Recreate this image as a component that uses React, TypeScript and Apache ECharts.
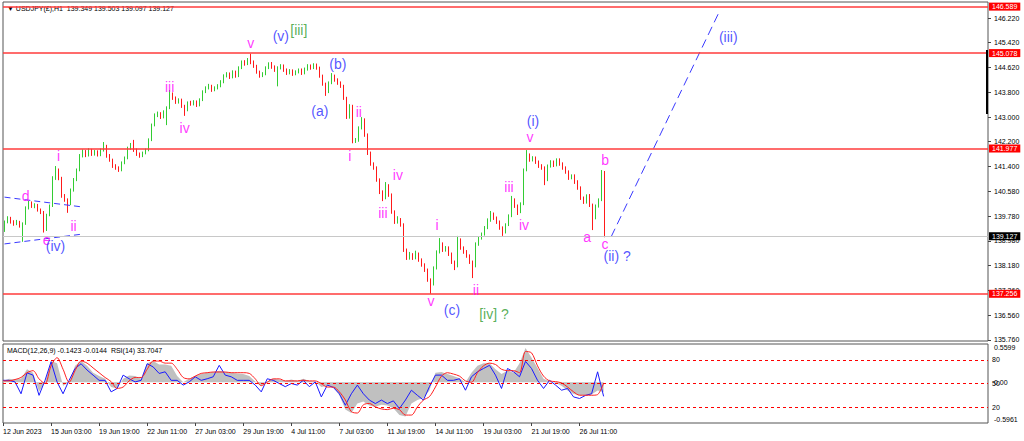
import React, { useEffect, useRef } from "react";
import * as echarts from "echarts";

// ---------- data ----------
const timeLabels = [
  "12 Jun 2023", "15 Jun 03:00", "19 Jun 19:00", "22 Jun 11:00", "27 Jun 03:00",
  "29 Jun 19:00", "4 Jul 11:00", "7 Jul 03:00", "11 Jul 19:00", "14 Jul 11:00",
  "19 Jul 03:00", "21 Jul 19:00", "26 Jul 11:00",
];
const priceTicks = [135.76, 136.56, 137.36, 138.18, 138.98, 139.78, 140.58, 141.4, 142.2, 143.0, 143.8, 144.62, 145.42, 146.22];
const levelLines = [146.589, 145.078, 141.977, 137.256];
const lastPrice = 139.127;
const rsiLevels = [20, 50, 80];
const macdBounds = [-0.5961, 0.5599];

// [open, close, low, high]
const candles = [
  [139.33,139.59,139.27,139.64],[139.59,139.72,139.55,139.78],[139.72,139.59,139.54,139.76],[139.59,139.53,139.47,139.65],
  [139.53,139.59,139.49,139.66],[139.59,139.46,139.41,139.63],[139.46,139.53,138.95,139.58],[139.53,140.05,139.50,140.10],
  [140.05,140.21,140.00,140.28],[140.21,140.11,140.05,140.26],[140.11,140.14,140.04,140.20],[140.14,139.98,139.93,140.18],
  [139.98,139.92,139.85,140.03],[139.92,139.33,139.25,139.95],[139.33,139.82,139.30,139.86],[139.82,140.11,139.78,140.16],
  [140.11,141.02,140.08,141.08],[141.02,141.28,140.96,141.41],[141.28,141.02,140.95,141.33],[141.02,140.44,140.38,141.06],
  [140.44,140.31,140.25,140.50],[140.31,140.18,139.89,140.36],[140.18,140.63,140.14,140.68],[140.63,140.96,140.58,141.02],
  [140.96,141.28,140.92,141.33],[141.28,141.74,141.24,141.80],[141.74,141.87,141.69,141.95],[141.87,141.77,141.70,141.93],
  [141.77,141.93,141.72,141.99],[141.93,141.80,141.74,141.97],[141.80,141.87,141.75,141.93],[141.87,141.77,141.72,141.92],
  [141.77,141.93,141.73,141.98],[141.93,142.06,141.88,142.19],[142.06,141.74,141.68,142.10],[141.74,141.61,141.55,141.80],
  [141.61,141.41,141.35,141.65],[141.41,141.35,141.29,141.47],[141.35,141.28,141.22,141.40],[141.28,141.51,141.24,141.56],
  [141.51,141.67,141.47,141.72],[141.67,141.99,141.63,142.04],[141.99,142.09,141.94,142.16],[142.09,141.93,141.87,142.26],
  [141.93,141.80,141.74,141.98],[141.80,141.74,141.68,141.85],[141.74,141.83,141.70,141.88],[141.83,141.93,141.79,141.98],
  [141.93,142.26,141.89,142.31],[142.26,142.74,142.22,142.79],[142.74,143.07,142.70,143.12],[143.07,143.10,143.00,143.18],
  [143.10,143.00,142.94,143.16],[143.00,143.17,142.96,143.22],[143.17,143.30,142.74,143.35],[143.30,143.75,143.26,143.88],
  [143.75,143.62,143.56,143.80],[143.62,143.49,143.43,143.67],[143.49,143.56,143.44,143.61],[143.56,143.36,143.30,143.60],
  [143.36,143.23,143.04,143.40],[143.23,143.46,143.19,143.51],[143.46,143.43,143.37,143.53],[143.43,143.49,143.38,143.55],
  [143.49,143.39,143.33,143.54],[143.39,143.56,143.35,143.61],[143.56,143.82,143.52,143.87],[143.82,143.95,143.78,144.00],
  [143.95,144.01,143.90,144.08],[144.01,143.88,143.82,144.05],[143.88,143.95,143.84,144.00],[143.95,144.01,143.90,144.07],
  [144.01,144.14,143.97,144.20],[144.14,144.34,144.10,144.39],[144.34,144.40,144.29,144.46],[144.40,144.30,144.24,144.45],
  [144.30,144.47,144.26,144.52],[144.47,144.34,144.28,144.51],[144.34,144.60,144.30,144.65],[144.60,144.79,144.56,144.84],
  [144.79,144.73,144.67,144.85],[144.73,144.86,144.69,144.92],[144.86,144.79,144.72,145.06],[144.79,144.66,144.60,144.84],
  [144.66,144.47,144.41,144.70],[144.47,144.34,144.28,144.51],[144.34,144.40,144.30,144.46],[144.40,144.60,144.36,144.65],
  [144.60,144.73,144.56,144.78],[144.73,144.63,144.57,144.79],[144.63,144.53,144.47,144.68],[144.53,144.60,144.00,144.65],
  [144.60,144.66,144.55,144.72],[144.66,144.53,144.47,144.71],[144.53,144.43,144.37,144.58],[144.43,144.50,144.39,144.56],
  [144.50,144.40,144.34,144.55],[144.40,144.47,144.36,144.52],[144.47,144.53,144.42,144.58],[144.53,144.43,144.37,144.58],
  [144.43,144.56,144.39,144.61],[144.56,144.66,144.51,144.72],[144.66,144.60,144.54,144.71],[144.60,144.69,144.56,144.75],
  [144.69,144.60,144.54,144.74],[144.60,144.34,144.28,144.64],[144.34,144.08,144.02,144.38],[144.08,143.82,143.69,144.12],
  [143.82,144.11,143.78,144.16],[144.11,144.34,144.07,144.43],[144.34,144.21,144.15,144.38],[144.21,144.11,144.05,144.26],
  [144.11,144.01,143.95,144.16],[144.01,143.62,143.56,144.05],[143.62,143.00,142.94,143.66],[143.00,143.36,142.95,143.42],
  [143.36,142.22,142.15,143.40],[142.22,142.26,142.16,142.32],[142.26,142.65,142.20,142.70],[142.65,142.91,142.60,143.00],
  [142.91,142.42,142.36,142.96],[142.42,141.83,141.77,142.47],[141.83,141.48,141.42,141.88],[141.48,141.35,141.29,141.53],
  [141.35,140.96,140.90,141.40],[140.96,140.57,140.50,141.01],[140.57,140.37,140.27,140.62],[140.37,140.76,140.33,140.89],
  [140.76,140.47,140.41,140.82],[140.47,139.92,139.86,140.52],[139.92,139.59,139.53,139.97],[139.59,139.66,139.54,139.78],
  [139.66,139.50,139.44,139.72],[139.50,138.68,138.62,139.55],[138.68,138.42,138.36,138.73],[138.42,138.52,138.37,138.62],
  [138.52,138.42,138.36,138.58],[138.42,138.55,138.38,138.66],[138.55,138.36,138.30,138.60],[138.36,138.20,138.14,138.41],
  [138.20,138.03,137.97,138.25],[138.03,137.71,137.65,138.08],[137.71,137.58,137.26,137.76],[137.58,138.10,137.53,138.15],
  [138.10,138.62,138.05,138.67],[138.62,138.88,138.57,139.07],[138.88,138.68,138.62,138.93],[138.68,138.75,138.63,138.81],
  [138.75,138.55,138.49,138.80],[138.55,138.29,138.23,138.60],[138.29,138.16,138.03,138.34],[138.16,139.01,138.12,139.14],
  [139.01,138.75,138.69,139.06],[138.75,138.62,138.56,138.80],[138.62,138.49,138.43,138.68],[138.49,138.29,138.23,138.54],
  [138.29,138.16,137.77,138.34],[138.16,138.88,138.12,138.93],[138.88,139.07,138.82,139.12],[139.07,139.20,139.02,139.25],
  [139.20,139.40,139.15,139.46],[139.40,139.66,139.36,139.71],[139.66,139.85,139.60,139.95],[139.85,139.72,139.66,139.90],
  [139.72,139.59,139.53,139.77],[139.59,139.40,139.34,139.64],[139.40,139.27,139.14,139.45],[139.27,139.50,139.22,139.55],
  [139.50,139.79,139.46,139.84],[139.79,140.31,139.75,140.44],[140.31,140.11,140.05,140.36],[140.11,139.92,139.82,140.16],
  [139.92,140.18,139.88,140.23],[140.18,141.28,140.14,141.33],[141.28,141.77,141.24,141.93],[141.77,141.61,141.55,141.82],
  [141.61,141.67,141.56,141.73],[141.67,141.54,141.48,141.72],[141.54,141.41,141.35,141.59],[141.41,141.35,141.29,141.47],
  [141.35,140.96,140.79,141.40],[140.96,141.41,140.92,141.46],[141.41,141.54,141.36,141.60],[141.54,141.44,141.38,141.59],
  [141.44,141.61,141.40,141.66],[141.61,141.48,141.42,141.66],[141.48,141.35,141.29,141.53],[141.35,141.22,141.16,141.40],
  [141.22,141.02,140.96,141.27],[141.02,141.09,140.98,141.14],[141.09,140.89,140.83,141.14],[140.89,140.70,140.64,140.95],
  [140.70,140.37,140.31,140.75],[140.37,140.24,140.18,140.42],[140.24,140.44,140.19,140.49],[140.44,140.14,140.08,140.50],
  [140.14,139.72,139.33,140.19],[139.72,140.11,139.68,140.16],[140.11,140.31,140.06,140.36],[140.31,141.22,140.27,141.28],
  [141.22,139.127,139.097,141.25],
];

const macdMain = [
  0.02,0.05,0.04,0.05,0.19,0.14,-0.14,0,0.31,0.28,
  -0.05,0,0.24,0.31,0.24,0.14,0.09,0.05,-0.07,-0.09,
  0.05,0.10,0.09,0.05,0.28,0.31,0.26,0.26,0.24,0.09,
  0,0.05,0.09,0.12,0.14,0.15,0.17,0.15,0.14,0.13,
  0.12,0.09,0.01,-0.05,0.01,0.05,0.04,0.02,0.04,0.02,
  0.05,0.02,0.01,-0.07,-0.05,-0.07,-0.19,-0.40,-0.45,-0.31,
  -0.28,-0.34,-0.36,-0.33,-0.34,-0.38,-0.48,-0.50,-0.31,-0.26,
  -0.23,-0.12,0.14,0.15,0.12,0.09,0.06,0,0.14,0.24,
  0.28,0.28,0.19,0.12,0.17,0.14,0.28,0.50,0.36,0.21,
  0.05,0.01,-0.01,-0.05,-0.12,-0.17,-0.19,-0.19,-0.18,-0.12,
  -0.1423,
];
const macdSignal = [
  0.02,0.02,0.04,0.07,0.14,0.17,0.05,-0.02,0.24,0.36,
  0.19,0,0.17,0.31,0.28,0.21,0.14,0.07,0.01,-0.09,
  -0.07,0.02,0.07,0.07,0.19,0.31,0.31,0.28,0.28,0.19,
  0.07,0.05,0.09,0.13,0.14,0.15,0.15,0.15,0.14,0.14,
  0.14,0.13,0.05,-0.05,0,0.05,0.05,0.02,0.02,0.02,
  0.03,0.02,0.02,-0.02,-0.07,-0.07,-0.14,-0.26,-0.43,-0.45,
  -0.33,-0.31,-0.36,-0.39,-0.40,-0.38,-0.40,-0.48,-0.48,-0.36,
  -0.26,-0.21,-0.07,0.09,0.14,0.12,0.09,0.02,0,0.14,
  0.24,0.28,0.26,0.19,0.17,0.17,0.14,0.45,0.43,0.24,
  0.09,0.02,0.01,-0.01,-0.07,-0.14,-0.19,-0.19,-0.19,-0.18,
  -0.0144,
];
const rsi = [
  54,54,52,37,63.5,60.6,35,54,77.5,52,
  37,54,69,75,67,60.6,54,54,39.4,43.7,
  60.6,56,52,54,75,71,62.7,64.8,54,54,
  48,52,58.5,54,56,58.5,73,60.6,58.5,54,
  54,54,48,39.4,56,54,50,46,50,48,
  54,46,52,33,48,45,37,22.5,37,48,
  37,29,24.6,29,24.6,28,18.3,29,41.5,35,
  29,46,60.6,60.6,54,54,56,41.5,58.5,64.8,
  69,73,60.6,43.7,69,64.8,58.5,78,69,54,
  43.7,54,48,41.5,43.7,33,31,35,37,64.8,
  33.7047,
];

// wave labels: [text, bar index, price, degree]
const waveLabels = [
  ["d", 7, 140.44, "minor"], ["e", 14, 139.01, "minor"], ["i", 18, 141.74, "minor"], ["ii", 23, 139.46, "minor"],
  ["iii", 55, 143.98, "minor"], ["iv", 60, 142.65, "minor"], ["v", 82, 145.41, "minor"],
  ["i", 115, 141.74, "minor"], ["ii", 118, 143.17, "minor"], ["iii", 126, 139.89, "minor"], ["iv", 131, 141.12, "minor"],
  ["v", 142, 137.03, "minor"], ["i", 144, 139.50, "minor"], ["ii", 157, 137.38, "minor"], ["iii", 168, 140.73, "minor"],
  ["iv", 173, 139.50, "minor"], ["v", 175, 142.35, "minor"], ["a", 194, 139.11, "minor"], ["b", 200, 141.61, "minor"],
  ["c", 200, 138.88, "minor"],
  ["(iv)", 17, 138.81, "minute"], ["(v)", 92, 145.64, "minute"], ["(a)", 105, 143.20, "minute"], ["(b)", 111, 144.73, "minute"],
  ["(c)", 149, 136.73, "minute"], ["(i)", 176, 142.87, "minute"], ["(ii) ?", 204, 138.49, "minute"], ["(iii)", 241, 145.60, "minute"],
  ["[iii]", 98, 145.83, "intermediate"], ["[iv] ?", 163, 136.61, "intermediate"],
];

// trendlines: [[bar index, price], [bar index, price]]
const triangleUpper = [[0, 140.40], [26, 140.08]];
const triangleLower = [[0, 138.88], [26, 139.20]];
const projection = [[202, 139.11], [238, 146.42]];

// ---------- presentation ----------
const FONT = "'Liberation Sans', Arial, sans-serif";
const degreeColor: Record<string, string> = { minor: "#ff00ff", minute: "#2a2aff", intermediate: "#2e9a2e" };
const MAIN_SLOTS = 328;
const SUB_SLOTS = 165;
const mainCats = Array.from({ length: MAIN_SLOTS }, (_, i) => String(i));
const subCats = Array.from({ length: SUB_SLOTS }, (_, k) => (k % 8 === 0 && timeLabels[k / 8]) || "");

function buildOption() {
  const levelLabel = (bg: string) => ({
    show: true,
    position: "end",
    distance: 1,
    formatter: (p: any) => p.name,
    color: "#fff",
    backgroundColor: bg,
    fontSize: 7,
    fontFamily: FONT,
    padding: [1, 3, 0, 3],
  });
  return {
    animation: false,
    backgroundColor: "#ffffff",
    grid: [
      { left: 3, right: 36, top: 2, height: 339, show: true, borderColor: "#555", borderWidth: 1 },
      { left: 3, right: 36, top: 344, height: 79, show: true, borderColor: "#555", borderWidth: 1 },
    ],
    xAxis: [
      { type: "category", gridIndex: 0, data: mainCats, boundaryGap: true, show: false },
      {
        type: "category", gridIndex: 1, data: subCats, boundaryGap: false,
        axisLine: { show: false },
        axisTick: { show: true, length: 3, interval: (_i: number, v: string) => v !== "", lineStyle: { color: "#444" } },
        axisLabel: { interval: 0, align: "left", fontSize: 7, color: "#000", margin: 5, fontFamily: FONT },
        splitLine: { show: false },
      },
    ],
    yAxis: [
      {
        type: "value", gridIndex: 0, position: "right", min: 135.726, max: 146.74,
        splitLine: { show: false }, axisLine: { show: false },
        axisTick: { show: true, length: 3, customValues: priceTicks, lineStyle: { color: "#444" } },
        axisLabel: { customValues: priceTicks, formatter: (v: number) => v.toFixed(3), fontSize: 7, color: "#000", margin: 6, fontFamily: FONT },
      },
      {
        type: "value", gridIndex: 1, position: "right", min: 0, max: 100,
        splitLine: { show: false }, axisLine: { show: false }, axisTick: { show: false },
        axisLabel: { customValues: rsiLevels, fontSize: 7, color: "#000", margin: 4, fontFamily: FONT },
      },
      {
        type: "value", gridIndex: 1, position: "right", min: macdBounds[0], max: macdBounds[1],
        splitLine: { show: false }, axisLine: { show: false }, axisTick: { show: false },
        axisLabel: {
          customValues: [macdBounds[0], 0, macdBounds[1]],
          formatter: (v: number) => (Math.abs(v) < 1e-9 ? "0.00" : v.toFixed(4)),
          verticalAlignMinLabel: "bottom", verticalAlignMaxLabel: "top",
          fontSize: 7, color: "#000", margin: 6, fontFamily: FONT,
        },
      },
    ],
    graphic: [
      { type: "text", left: 7, top: 5, silent: true, style: { text: "▼ USDJPY(£),H1  139.349 139.503 139.097 139.127", fontSize: 7, fill: "#000", fontFamily: FONT } },
      { type: "text", left: 7, top: 347, silent: true, style: { text: "MACD(12,26,9) -0.1423 -0.0144  RSI(14) 33.7047", fontSize: 7, fill: "#000", fontFamily: FONT } },
      { type: "rect", silent: true, z: 10, shape: { x: 986, y: 50, width: 2, height: 64 }, style: { fill: "#000" } },
    ],
    series: [
      {
        type: "candlestick", xAxisIndex: 0, yAxisIndex: 0, data: candles, barWidth: 1, silent: true,
        itemStyle: { color: "#33cc33", color0: "#ff1a1a", borderColor: "#33cc33", borderColor0: "#ff1a1a", borderWidth: 1 },
        markLine: {
          silent: true, symbol: ["none", "none"], animation: false,
          data: [
            ...levelLines.map((v) => ({ yAxis: v, name: v.toFixed(3), lineStyle: { color: "#ff3b3b", width: 1.5, type: "solid" }, label: levelLabel("#ff0000") })),
            { yAxis: lastPrice, name: lastPrice.toFixed(3), lineStyle: { color: "#c8c8c8", width: 1, type: "solid" }, label: levelLabel("#000000") },
          ],
        },
      },
      { type: "line", xAxisIndex: 0, yAxisIndex: 0, data: triangleUpper, symbol: "none", silent: true, lineStyle: { color: "#3a3aff", width: 1, type: [6, 4] } },
      { type: "line", xAxisIndex: 0, yAxisIndex: 0, data: triangleLower, symbol: "none", silent: true, lineStyle: { color: "#3a3aff", width: 1, type: [6, 4] } },
      { type: "line", xAxisIndex: 0, yAxisIndex: 0, data: projection, symbol: "none", silent: true, lineStyle: { color: "#3a3aff", width: 1, type: [9, 5] } },
      {
        type: "scatter", xAxisIndex: 0, yAxisIndex: 0, silent: true, symbolSize: 1, z: 5,
        itemStyle: { color: "rgba(0,0,0,0)" },
        label: { show: true, position: "inside", fontSize: 14, fontFamily: FONT },
        data: waveLabels.map(([t, i, p, d]) => ({ value: [i, p], label: { show: true, formatter: t as string, color: degreeColor[d as string] } })),
      },
      {
        type: "line", xAxisIndex: 1, yAxisIndex: 2, data: macdMain, symbol: "none", silent: true, z: 1,
        lineStyle: { width: 0, color: "#c0c0c0" }, areaStyle: { color: "#c0c0c0", opacity: 1 },
      },
      {
        type: "line", xAxisIndex: 1, yAxisIndex: 1, data: rsi, symbol: "none", silent: true,
        lineStyle: { color: "#1a1aff", width: 1 },
        markLine: {
          silent: true, symbol: ["none", "none"], animation: false, label: { show: false },
          lineStyle: { color: "#ff0000", width: 1, type: [3, 3] },
          data: rsiLevels.map((v) => ({ yAxis: v })),
        },
      },
      {
        type: "line", xAxisIndex: 1, yAxisIndex: 2, data: macdSignal, symbol: "none", silent: true, smooth: 0.3,
        lineStyle: { color: "#ff2020", width: 1 },
      },
    ],
  };
}

export default function App() {
  const ref = useRef<HTMLDivElement>(null);
  useEffect(() => {
    if (!ref.current) return;
    const chart = echarts.init(ref.current, null, { renderer: "svg" });
    chart.setOption(buildOption() as any);
    return () => chart.dispose();
  }, []);
  return (
    <div
      ref={ref}
      style={{ position: "fixed", left: 0, top: 0, width: 1024, height: 441, background: "#fff" }}
    />
  );
}
